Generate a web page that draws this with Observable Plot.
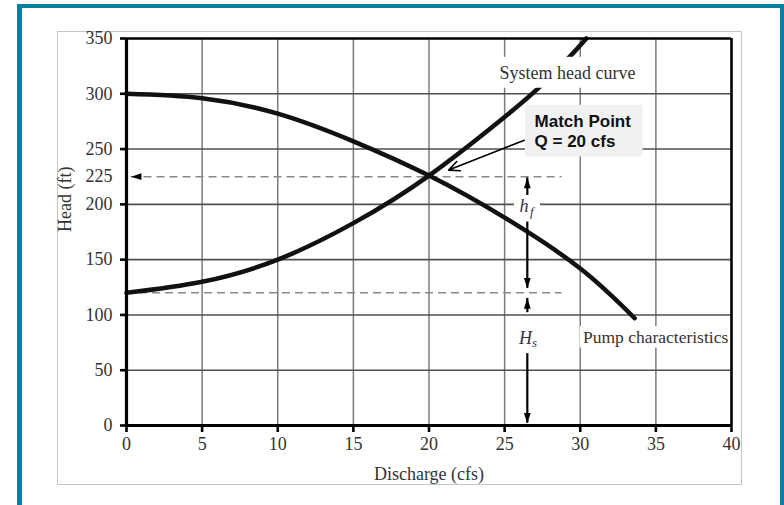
<!DOCTYPE html>
<html>
<head>
<meta charset="utf-8">
<script src="https://cdn.jsdelivr.net/npm/d3@7"></script>
<script src="https://cdn.jsdelivr.net/npm/@observablehq/plot@0.6"></script>
<style>
  html, body { margin: 0; padding: 0; background: #ffffff; }
  body { width: 784px; height: 505px; overflow: hidden; position: relative; }
  #frame { position: absolute; left: 17px; top: 4px; width: 758px; height: 600px;
    border-left: 5px solid #0b7ea4; border-top: 4.5px solid #0b7ea4; border-right: 4px solid #0b7ea4; }
  #box { position: absolute; left: 57px; top: 31px; width: 685px; height: 454px; box-sizing: border-box;
    border: 1px solid #c6c6c6; background: #fff; }
  #chart { position: absolute; left: 57px; top: 31px; }
</style>
</head>
<body>
<div id="frame"></div>
<div id="box"></div>
<div id="chart"></div>
<script>
// ---- data ----
const xTicks = [0, 5, 10, 15, 20, 25, 30, 35, 40];
const yTicks = [0, 50, 100, 150, 200, 250, 300, 350];
const yExtraTicks = [225];
const xGrid = [5, 10, 15, 20, 25, 30, 35];
const yGrid = [50, 100, 150, 200, 250, 300];
const xEdges = [0, 40];
const yEdges = [0, 350];

const pumpQ    = [0, 5, 10, 15, 20, 25, 30, 33.6];
const pumpHead = [300, 296, 282, 257, 226, 188, 142, 97];

const systemQ    = [0, 5, 10, 15, 20, 25, 27.3, 29.2, 30.4];
const systemHead = [120, 130, 150, 183, 226, 279, 306, 332, 350];

// dashed guide lines (match head 225, static head 120)
const guideHead   = [225, 120];
const guideStartQ = [0.3, 0];
const guideEndQ   = [28.8, 28.8];

// h_f / H_s dimension arrows
const dimQ      = 26.5;
const dimFrom   = [208, 124, 102, 2];
const dimTo     = [224, 184, 115, 65];
const tipHead   = [224, 124, 115, 2];
const tipTurn   = [0, 180, 0, 180];

// labels
const sysLabel  = {text: "System head curve", q: 29.16, h: 318.6};
const pumpLabel = {text: "Pump characteristics", q: 34.98, h: 79.6};
const matchText = "Match Point\nQ = 20 cfs";
const matchTextPos = {q: 26.98, h: 266.5};
const matchBox  = {q1: 26.38, q2: 34.16, h1: 242.8, h2: 289.6};
const matchArrow = {q1: 26.3, h1: 258, q2: 21.3, h2: 231};
const hfMain = {t: "h", q: 26.28, h: 198.2};
const hfSub  = {t: "f", q: 26.8, h: 193.0};
const hsMain = {t: "H", q: 26.38, h: 79.2};
const hsSub  = {t: "s", q: 26.98, h: 74.7};
const sysLabelBox  = {q1: 24.3, q2: 34.1, h1: 305, h2: 333};
const pumpLabelBox = {q1: 30.0, q2: 39.9, h1: 70, h2: 89.6};
const hfBox        = {q1: 25.65, q2: 27.37, h1: 184.8, h2: 206};

// ---- build tables ----
const pump = pumpQ.map((q, i) => ({q, h: pumpHead[i]}));
const system = systemQ.map((q, i) => ({q, h: systemHead[i]}));
const guides = guideHead.map((h, i) => ({h, q1: guideStartQ[i], q2: guideEndQ[i]}));
const dims = dimFrom.map((a, i) => ({q: dimQ, h1: a, h2: dimTo[i]}));
const tips = tipHead.map((h, i) => ({q: dimQ, h, r: tipTurn[i]}));
tips.push({q: guideStartQ[0], h: guideHead[0], r: -90});

// narrow filled arrowhead with its tip at the anchor point, pointing up
const arrowHead = {
  draw(ctx, size) {
    const r = Math.sqrt(size / Math.PI);
    const L = 2.6 * r, W = 0.85 * r;
    ctx.moveTo(0, 0);
    ctx.lineTo(W, L);
    ctx.lineTo(-W, L);
    ctx.closePath();
  }
};

const serif = "'Liberation Serif', 'Times New Roman', serif";
const sans = "'Liberation Sans', Arial, sans-serif";
const ink = "#333";

const chart = Plot.plot({
  width: 684,
  height: 453,
  marginLeft: 69,
  marginRight: 10,
  marginTop: 7,
  marginBottom: 59,
  x: {domain: [0, 40]},
  y: {domain: [0, 350]},
  style: {fontFamily: serif, fontSize: "18px", background: "transparent", overflow: "visible", color: ink},
  marks: [
    // grid
    Plot.ruleX(xGrid, {x: d => d, stroke: "#7c7c7c", strokeWidth: 1.5}),
    Plot.ruleY(yGrid, {y: d => d, stroke: "#505050", strokeWidth: 1.6}),
    // white patch behind h_f
    Plot.rect([hfBox], {x1: "q1", x2: "q2", y1: "h1", y2: "h2", fill: "white"}),
    // dashed guides
    Plot.ruleY(guides, {y: "h", x1: "q1", x2: "q2", stroke: "#8a8a8a", strokeWidth: 1.6, strokeDasharray: "8,5"}),
    // curves
    Plot.line(pump, {x: "q", y: "h", curve: "natural", stroke: "#111", strokeWidth: 4.5, strokeLinecap: "round"}),
    Plot.line(system, {x: "q", y: "h", curve: "natural", stroke: "#111", strokeWidth: 4.5, strokeLinecap: "round"}),
    // label backgrounds
    Plot.rect([sysLabelBox], {x1: "q1", x2: "q2", y1: "h1", y2: "h2", fill: "white"}),
    Plot.rect([pumpLabelBox], {x1: "q1", x2: "q2", y1: "h1", y2: "h2", fill: "white"}),
    Plot.rect([matchBox], {x1: "q1", x2: "q2", y1: "h1", y2: "h2", fill: "#f1f1f1"}),
    // frame
    Plot.ruleX(xEdges, {x: d => d, stroke: "black", strokeWidth: d => d === 0 ? 3.2 : 2.6}),
    Plot.ruleY(yEdges, {y: d => d, stroke: "black", strokeWidth: d => d === 0 ? 3.2 : 2.6}),
    // axes
    Plot.axisY({ticks: yTicks, tickSize: 6, tickPadding: 8, stroke: "black", strokeWidth: 2.6, fill: ink, label: null, fontSize: 18, tickFormat: d => String(d)}),
    Plot.axisY({ticks: yExtraTicks, tickSize: 0, tickPadding: 14, fill: ink, label: null, fontSize: 18, tickFormat: d => String(d)}),
    Plot.axisX({ticks: xTicks, tickSize: 7, tickPadding: 5, stroke: "black", strokeWidth: 2.6, fill: ink, label: null, fontSize: 18, tickFormat: d => String(d)}),
    Plot.text(["Discharge (cfs)"], {text: d => d, frameAnchor: "bottom", dy: 49, lineAnchor: "middle", fontSize: 18, fill: ink}),
    Plot.text(["Head (ft)"], {text: d => d, frameAnchor: "left", dx: -61, rotate: -90, fontSize: 18, fill: ink}),
    // dimension arrows
    Plot.ruleX(dims, {x: "q", y1: "h1", y2: "h2", stroke: "black", strokeWidth: 2.2}),
    Plot.dot(tips, {x: "q", y: "h", rotate: "r", symbol: arrowHead, r: 4, fill: "black", stroke: "none"}),
    // labels
    Plot.text([sysLabel], {x: "q", y: "h", text: "text", fontSize: 18, fill: ink}),
    Plot.text([pumpLabel], {x: "q", y: "h", text: "text", fontSize: 17.5, fill: ink}),
    Plot.text([hfMain, hsMain], {x: "q", y: "h", text: "t", fontSize: 18, fontStyle: "italic", fill: "#2e3350"}),
    Plot.text([hfSub, hsSub], {x: "q", y: "h", text: "t", fontSize: 13, fontStyle: "italic", fill: "#2e3350"}),
    Plot.text([matchTextPos], {x: "q", y: "h", text: () => matchText, textAnchor: "start", lineAnchor: "middle", lineHeight: 1.18, fontFamily: sans, fontWeight: "bold", fontSize: 17, fill: "#111"}),
    Plot.arrow([matchArrow], {x1: "q1", y1: "h1", x2: "q2", y2: "h2", stroke: "black", strokeWidth: 1.6, headLength: 11, headAngle: 50})
  ]
});
document.getElementById("chart").appendChild(chart);
</script>
</body>
</html>
